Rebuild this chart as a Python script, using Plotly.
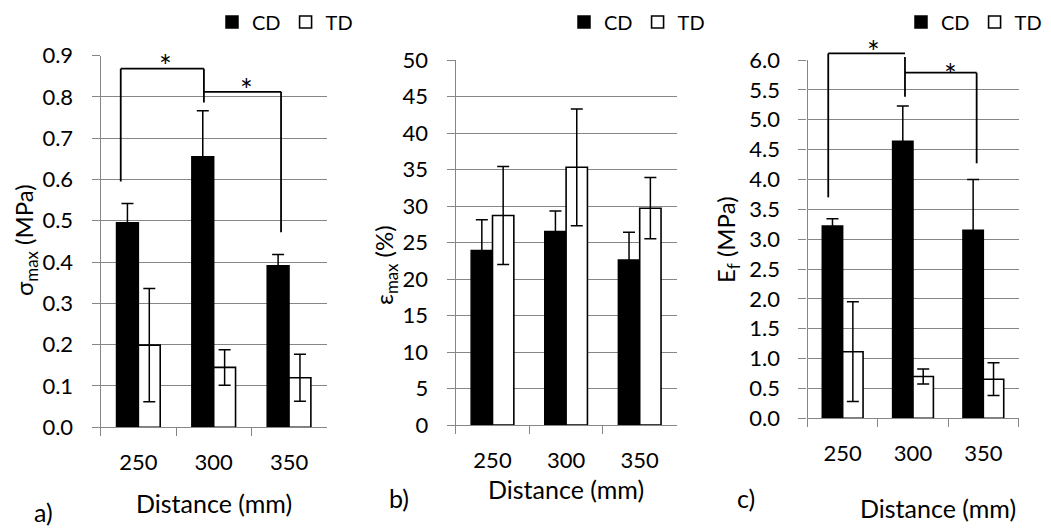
import plotly.graph_objects as go

# ---------------- data ----------------
categories = ["250", "300", "350"]

sigma_cd = [0.495, 0.655, 0.391]
sigma_cd_err = [0.047, 0.111, 0.027]
sigma_td = [0.199, 0.145, 0.120]
sigma_td_err = [0.137, 0.043, 0.057]

eps_cd = [23.9, 26.5, 22.6]
eps_cd_err = [4.2, 2.8, 3.8]
eps_td = [28.7, 35.3, 29.7]
eps_td_err = [6.7, 8.0, 4.2]

ef_cd = [3.22, 4.64, 3.15]
ef_cd_err = [0.12, 0.59, 0.85]
ef_td = [1.115, 0.70, 0.655]
ef_td_err = [0.835, 0.125, 0.275]

# significance brackets (category-index x, data y); None separates segments
sig_a_x = [-0.234, -0.234, 0.870, 0.870, None, 0.870, 1.894, 1.894]
sig_a_y = [0.595, 0.868, 0.868, 0.786, None, 0.812, 0.812, 0.472]
star_a_x = [0.36, 1.44]
star_a_y = [0.876, 0.819]

sig_c_x = [-0.205, -0.205, 0.886, None, 0.886, 0.886, None, 0.886, 1.905, 1.905]
sig_c_y = [3.70, 6.11, 6.11, None, 6.05, 5.385, None, 5.787, 5.787, 4.27]
star_c_x = [0.435, 1.54]
star_c_y = [6.145, 5.765]

# ---------------- style ----------------
W, H = 1051, 528
FONT = "Lato, 'Noto Sans', sans-serif"
GRID = "#868686"


def px_x(p):
    return p / W


def px_y(p):
    return 1 - p / H


panels = [
    dict(cd=sigma_cd, cde=sigma_cd_err, td=sigma_td, tde=sigma_td_err,
         xd=[px_x(100.7), px_x(326.7)], yd=[px_y(427.3), px_y(55.5)],
         yr=[0, 0.9], dt=0.1, fmt=".1f", yt="σ<sub>max</sub> (MPa)", ytpos=(25, 240),
         xtpos=(213.7, 503), lab=("a)", 43, 512),
         lg="legend", lgx=px_x(212)),
    dict(cd=eps_cd, cde=eps_cd_err, td=eps_td, tde=eps_td_err,
         xd=[px_x(455.7), px_x(676.5)], yd=[px_y(425), px_y(60)],
         yr=[0, 50], dt=5, fmt="d", yt="ε<sub>max</sub> (%)", ytpos=(385, 265),
         xtpos=(566, 489), lab=("b)", 399, 498),
         lg="legend2", lgx=px_x(564)),
    dict(cd=ef_cd, cde=ef_cd_err, td=ef_td, tde=ef_td_err,
         xd=[px_x(807.5), px_x(1018.5)], yd=[px_y(418.3), px_y(60)],
         yr=[0, 6], dt=0.5, fmt=".1f", yt="E<sub>f</sub> (MPa)", ytpos=(727, 240),
         xtpos=(938, 508), lab=("c)", 746, 498),
         lg="legend3", lgx=px_x(901)),
]

fig = go.Figure()
layout = {}
annotations = []
for i, p in enumerate(panels):
    n = "" if i == 0 else str(i + 1)
    xa, ya = "x" + n, "y" + n
    fig.add_trace(go.Bar(
        x=categories, y=p["cd"], name="CD", xaxis=xa, yaxis=ya, legend=p["lg"],
        marker=dict(color="black", line=dict(color="black", width=1.5)),
        error_y=dict(type="data", array=p["cde"], color="black", thickness=1.5, width=6),
    ))
    fig.add_trace(go.Bar(
        x=categories, y=p["td"], name="TD", xaxis=xa, yaxis=ya, legend=p["lg"],
        marker=dict(color="white", line=dict(color="black", width=1.6)),
        error_y=dict(type="data", array=p["tde"], color="black", thickness=1.5, width=6),
    ))
    layout["xaxis" + n] = dict(
        domain=p["xd"], anchor=ya, type="category", range=[-0.5, 2.5],
        tickson="boundaries", ticks="outside", ticklen=8, tickwidth=1.3, tickcolor=GRID,
        showline=True, linecolor=GRID, linewidth=1.3, showgrid=False, zeroline=False,
        tickfont=dict(size=22, family=FONT, color="black"), ticklabelstandoff=15,
    )
    layout["yaxis" + n] = dict(
        domain=p["yd"], anchor=xa, range=p["yr"], dtick=p["dt"], tick0=0, tickformat=p["fmt"],
        ticks="outside", ticklen=8, tickwidth=1.3, tickcolor=GRID,
        showline=True, linecolor=GRID, linewidth=1.3, showgrid=True, gridcolor=GRID, gridwidth=1.3,
        zeroline=False, tickfont=dict(size=22, family=FONT, color="black"), ticklabelstandoff=14,
    )
    layout[p["lg"]] = dict(
        orientation="h", x=p["lgx"], y=px_y(22), xanchor="left", yanchor="middle",
        font=dict(size=20, family=FONT, color="black"), itemwidth=30,
        bgcolor="rgba(0,0,0,0)", traceorder="normal",
    )
    # y-axis title
    annotations.append(dict(x=px_x(p["ytpos"][0]), y=px_y(p["ytpos"][1]), xref="paper", yref="paper",
                            xanchor="center", yanchor="middle", textangle=-90,
                            text=p["yt"], showarrow=False,
                            font=dict(size=24, family=FONT, color="black")))
    # x-axis title
    annotations.append(dict(x=px_x(p["xtpos"][0]), y=px_y(p["xtpos"][1]), xref="paper", yref="paper",
                            xanchor="center", yanchor="middle",
                            text="Distance (mm)", showarrow=False,
                            font=dict(size=25, family=FONT, color="black")))
    # panel label
    t, lx, ly = p["lab"]
    annotations.append(dict(x=px_x(lx), y=px_y(ly), xref="paper", yref="paper",
                            xanchor="center", yanchor="middle",
                            text=t, showarrow=False,
                            font=dict(size=25, family=FONT, color="black")))


def bracket_shapes(xs, ys, xref, yref, ymax, ncat):
    shapes = []
    for k in range(len(xs) - 1):
        if xs[k] is None or xs[k + 1] is None:
            continue
        shapes.append(dict(
            type="line", xref=xref, yref=yref,
            x0=(xs[k] + 0.5) / ncat, x1=(xs[k + 1] + 0.5) / ncat,
            y0=ys[k] / ymax, y1=ys[k + 1] / ymax,
            line=dict(color="black", width=1.8),
        ))
    return shapes


shapes = []
shapes += bracket_shapes(sig_a_x, sig_a_y, "x domain", "y domain", panels[0]["yr"][1], len(categories))
shapes += bracket_shapes(sig_c_x, sig_c_y, "x3 domain", "y3 domain", panels[2]["yr"][1], len(categories))

for sx, sy in zip(star_a_x, star_a_y):
    annotations.append(dict(x=(sx + 0.5) / len(categories), y=sy / panels[0]["yr"][1],
                            xref="x domain", yref="y domain", text="*", showarrow=False,
                            xanchor="center", yanchor="middle",
                            font=dict(size=30, family=FONT, color="black")))
for sx, sy in zip(star_c_x, star_c_y):
    annotations.append(dict(x=(sx + 0.5) / len(categories), y=sy / panels[2]["yr"][1],
                            xref="x3 domain", yref="y3 domain", text="*", showarrow=False,
                            xanchor="center", yanchor="middle",
                            font=dict(size=30, family=FONT, color="black")))

fig.update_layout(
    width=W, height=H, margin=dict(l=0, r=0, t=0, b=0, autoexpand=False),
    paper_bgcolor="white", plot_bgcolor="white",
    barmode="group", bargap=0.42, bargroupgap=0,
    font=dict(family=FONT, color="black"),
    annotations=annotations, shapes=shapes,
    **layout,
)

fig.write_html("out.html")
